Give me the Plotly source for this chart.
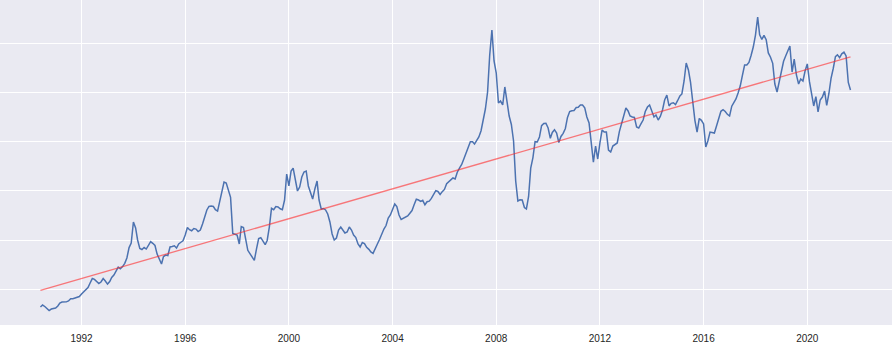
import numpy as np
import pandas as pd
import plotly.graph_objects as go

# Monthly index values, June 1990 through September 2021
series_start = "1990-06-01"
values = [
    32.0, 34.0, 32.5, 29.9, 28.4, 29.9, 30.4,                                  # 1990
    31.0, 33.0, 36.0, 37.0, 37.0, 37.2, 38.1, 40.4, 40.4, 40.9, 41.6, 42.6,    # 1991
    45.2, 47.7, 49.6, 51.8, 56.4, 60.9, 60.1, 57.9, 55.9, 57.4, 60.9, 58.4,    # 1992
    55.3, 57.9, 62.0, 64.5, 68.6, 72.6, 70.9, 73.1, 76.4, 81.8, 92.4, 97.0,    # 1993
    118.4, 112.3, 100.1, 91.4, 90.4, 92.4, 90.9, 95.5, 98.5, 96.7, 94.5, 85.8,  # 1994
    81.3, 75.7, 83.3, 84.8, 84.3, 93.0, 93.5, 94.2, 91.9, 96.0, 97.8, 99.3,    # 1995
    105.1, 112.8, 110.6, 109.5, 111.7, 111.2, 108.7, 110.2, 116.3, 122.7, 130.6, 134.2,  # 1996
    134.6, 134.1, 130.9, 129.5, 140.2, 151.2, 159.0, 158.0, 150.9, 143.5, 106.8, 106.2,  # 1997
    105.1, 96.0, 113.7, 112.8, 101.1, 89.6, 86.3, 82.5, 79.3, 90.9, 101.6, 102.4,       # 1998
    99.3, 95.4, 99.6, 113.5, 132.3, 130.9, 134.1, 133.7, 131.8, 130.8, 140.7, 167.1,    # 1999
    155.0, 170.2, 173.2, 163.1, 149.9, 153.9, 164.1, 169.2, 170.2, 155.0, 147.8, 141.7,  # 2000
    151.9, 160.0, 140.7, 131.6, 132.1, 130.6, 126.5, 118.4, 106.2, 100.1, 102.1, 110.2,  # 2001
    113.3, 110.7, 107.2, 108.2, 113.3, 110.2, 105.1, 102.6, 96.0, 93.0, 97.5, 96.5,     # 2002
    92.6, 90.6, 87.9, 86.5, 91.9, 96.0, 100.6, 106.5, 111.2, 114.8, 122.4, 125.5,      # 2003
    130.6, 136.7, 134.1, 125.5, 120.9, 122.2, 122.9, 124.5, 127.3, 130.0, 136.1, 141.5,  # 2004
    140.7, 139.4, 140.4, 135.9, 139.0, 139.6, 142.4, 145.8, 150.3, 149.4, 146.3, 149.2,  # 2005
    151.5, 157.2, 159.3, 161.0, 163.1, 162.1, 169.0, 173.2, 176.8, 182.4, 188.5, 195.2,  # 2006
    200.0, 199.9, 197.6, 201.3, 204.8, 211.1, 222.0, 233.2, 250.5, 288.1, 313.5, 282.0,  # 2007
    269.8, 239.3, 241.3, 237.3, 255.6, 242.4, 226.1, 217.5, 200.7, 160.0, 139.7, 140.9,  # 2008
    140.7, 133.1, 131.6, 144.3, 173.2, 183.9, 200.0, 199.7, 204.8, 216.3, 218.5, 218.7,  # 2009
    213.9, 203.4, 209.4, 212.2, 208.8, 199.2, 205.3, 208.5, 213.4, 224.6, 230.6, 231.5,  # 2010
    231.7, 234.7, 234.9, 237.2, 237.3, 234.4, 225.1, 219.0, 198.7, 179.3, 195.6, 182.4,  # 2011
    198.7, 211.9, 209.8, 209.8, 191.5, 189.5, 195.6, 197.6, 198.7, 210.3, 218.0, 224.1,  # 2012
    234.2, 231.2, 226.1, 225.1, 224.6, 214.9, 213.9, 218.0, 222.0, 230.7, 235.2, 237.3,  # 2013
    230.2, 225.1, 227.1, 222.0, 225.6, 232.2, 242.4, 247.4, 236.3, 239.0, 239.6, 237.8,  # 2014
    241.9, 246.4, 248.5, 261.7, 280.0, 272.9, 260.2, 240.6, 221.5, 209.8, 223.6, 221.7,  # 2015
    218.0, 194.6, 200.7, 209.8, 209.3, 208.8, 215.9, 224.1, 230.9, 232.6, 230.7, 227.8,  # 2016
    226.1, 236.1, 239.3, 243.4, 249.5, 256.8, 267.3, 277.9, 277.9, 280.5, 287.8, 296.2,  # 2017
    308.4, 326.7, 308.7, 303.9, 308.0, 303.6, 290.2, 285.8, 279.6, 258.6, 250.5, 259.8,  # 2018
    268.8, 281.7, 286.9, 292.7, 297.2, 270.8, 284.0, 267.8, 258.6, 263.7, 261.7, 271.8,  # 2019
    279.0, 261.0, 248.5, 236.3, 245.7, 230.2, 242.4, 245.4, 251.5, 236.8, 249.0, 264.4,  # 2020
    274.4, 286.4, 288.3, 285.4, 289.3, 291.1, 287.1, 260.2, 252.5,                     # 2021
]

dates = pd.date_range(series_start, periods=len(values), freq="MS")
y = np.array(values)

# Least-squares linear trend over the whole period
idx = np.arange(len(y))
slope, intercept = np.polyfit(idx, y, 1)
trend = intercept + slope * idx

fig = go.Figure()
fig.add_trace(go.Scatter(
    x=dates, y=y, mode="lines",
    line=dict(color="#4C72B0", width=1.5),
    showlegend=False, hoverinfo="skip",
))
fig.add_trace(go.Scatter(
    x=[dates[0], dates[-1]], y=[trend[0], trend[-1]], mode="lines",
    line=dict(color="rgba(255,40,40,0.6)", width=1.3),
    showlegend=False, hoverinfo="skip",
))

fig.update_layout(
    width=892, height=347,
    margin=dict(l=0, r=0, t=0, b=22),
    paper_bgcolor="white",
    plot_bgcolor="#EAEAF2",
    font=dict(family="Arial, Liberation Sans, sans-serif", size=10, color="#262626"),
    xaxis=dict(
        type="date",
        range=["1988-11-08", "2023-04-09"],
        tick0="1992-01-01", dtick="M48", tickformat="%Y",
        showgrid=True, gridcolor="white", gridwidth=1,
        zeroline=False, showline=False,
        ticks="outside", ticklen=4, tickcolor="rgba(0,0,0,0)",
    ),
    yaxis=dict(
        range=[13.7, 344.0],
        tick0=0, dtick=50,
        showgrid=True, gridcolor="white", gridwidth=1,
        zeroline=False, showline=False,
        showticklabels=False, ticks="",
    ),
)

fig.write_html("out.html")
